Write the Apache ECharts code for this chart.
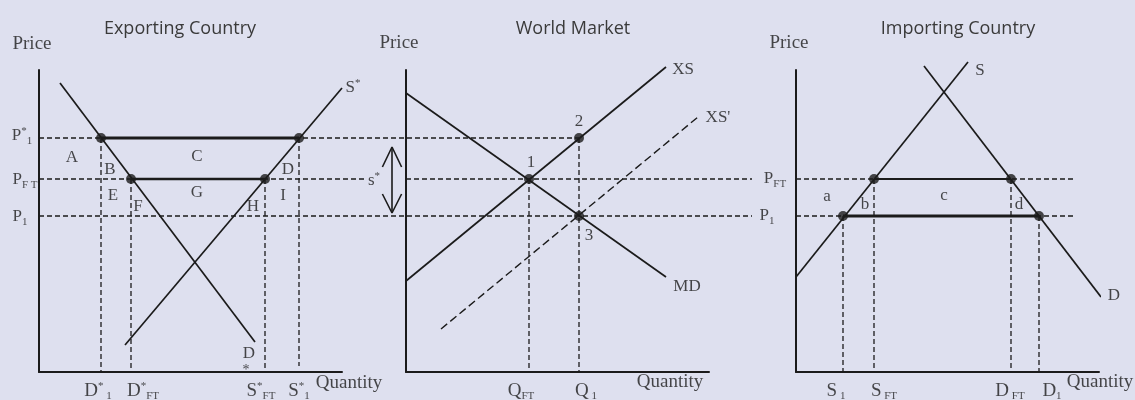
<!DOCTYPE html>
<html>
<head>
<meta charset="utf-8">
<title>Export subsidy</title>
<script src="https://cdn.jsdelivr.net/npm/echarts@6/dist/echarts.min.js"></script>
<style>
html, body { margin: 0; padding: 0; background: #dee0ef; }
#chart { width: 1135px; height: 400px; }
</style>
</head>
<body>
<div id="chart"></div>
<script>
// price levels shared by the three panels: P*1, PFT, P1
var prices = [234, 193, 156];

// exporting country
var expDemand = [[21, 289], [216, 30]];
var expSupply = [[86, 27], [303, 284]];
var expQty = [62, 92, 226, 260]; // D*1, D*FT, S*FT, S*1

// world market
var worldXS = [[0, 91], [260, 305]];
var worldXS2 = [[35, 43], [292, 255]]; // XS'
var worldMD = [[0, 279], [260, 95]];
var worldQty = [123, 173]; // QFT, Q1
var arrowY = [159, 225]; // the s* arrow

// importing country
var impSupply = [[0, 95], [172, 310]];
var impDemand = [[128, 306], [305, 75]];
var impQty = [47, 78, 215, 243]; // S1, SFT, DFT, D1

var ink = '#1b1b1b';
var serif = 'Liberation Serif';
var gridLeft = [39, 406, 796];
var W = 303, H = 302;

var chart = echarts.init(document.getElementById('chart'));

function seg(gi, pts, width, dash) {
    return {
        type: 'line',
        xAxisIndex: gi,
        yAxisIndex: gi,
        data: pts,
        symbol: 'none',
        clip: false,
        silent: true,
        lineStyle: { color: ink, width: width, type: dash || 'solid' }
    };
}
function dashed(gi, pts) {
    return seg(gi, pts, 1.3, [5, 3]);
}
function dots(gi, pts) {
    return {
        type: 'scatter',
        xAxisIndex: gi,
        yAxisIndex: gi,
        data: pts,
        symbolSize: 10,
        clip: false,
        silent: true,
        itemStyle: { color: ink }
    };
}
function labels(gi, items) {
    return {
        type: 'scatter',
        xAxisIndex: gi,
        yAxisIndex: gi,
        data: items,
        symbolSize: 1,
        clip: false,
        silent: true,
        itemStyle: { color: 'rgba(0,0,0,0)' },
        label: {
            show: true,
            position: 'inside',
            align: 'center',
            verticalAlign: 'middle',
            formatter: function (p) { return p.data.text; },
            rich: {
                m: { fontFamily: serif, fontSize: 17, color: ink },
                b: { fontFamily: serif, fontSize: 19, color: ink },
                sup: { fontFamily: serif, fontSize: 11, color: ink, padding: [0, 0, 10, 0] },
                sub: { fontFamily: serif, fontSize: 11, color: ink, padding: [10, 0, 0, 0] },
                st: { fontFamily: serif, fontSize: 14, color: ink }
            }
        }
    };
}
function lab(x, y, text) {
    return { value: [x, y], text: text };
}

var grids = [], xAxes = [], yAxes = [];
gridLeft.forEach(function (l, i) {
    grids.push({ left: l, top: 70, width: W, height: H });
    xAxes.push({
        type: 'value', gridIndex: i, min: 0, max: W,
        axisLine: { lineStyle: { color: ink, width: 2 } },
        axisTick: { show: false }, axisLabel: { show: false }, splitLine: { show: false }
    });
    yAxes.push({
        type: 'value', gridIndex: i, min: 0, max: H,
        axisLine: { lineStyle: { color: ink, width: 2 } },
        axisTick: { show: false }, axisLabel: { show: false }, splitLine: { show: false }
    });
});
// overlay across the whole width for the guide lines that run from panel to panel
grids.push({ left: 0, top: 70, width: 1135, height: H });
xAxes.push({ type: 'value', gridIndex: 3, min: 0, max: 1135, show: false });
yAxes.push({ type: 'value', gridIndex: 3, min: 0, max: H, show: false });

var pS = prices[0], pFT = prices[1], p1 = prices[2];
var q = expQty, wq = worldQty, iq = impQty;
var ax = 392; // arrow x on the overlay

var series = [
    // guide lines running across panels
    dashed(3, [[gridLeft[0], pS], [gridLeft[1] + wq[1], pS]]),
    dashed(3, [[gridLeft[0], pFT], [365, pFT]]),
    dashed(3, [[gridLeft[1], pFT], [752, pFT]]),
    dashed(3, [[gridLeft[0], p1], [752, p1]]),
    seg(3, [[ax, arrowY[0]], [ax, arrowY[1]]], 1.6),
    seg(3, [[ax - 9.6, arrowY[1] - 20], [ax, arrowY[1]], [ax + 9.6, arrowY[1] - 20]], 1.6),
    seg(3, [[ax - 9.6, arrowY[0] + 19], [ax, arrowY[0]], [ax + 9.6, arrowY[0] + 19]], 1.6),

    // exporting country
    dashed(0, [[q[0], pS], [q[0], 0]]),
    dashed(0, [[q[1], pFT], [q[1], 0]]),
    dashed(0, [[q[2], pFT], [q[2], 0]]),
    dashed(0, [[q[3], pS], [q[3], 6]]),
    seg(0, expDemand, 1.7),
    seg(0, expSupply, 1.7),
    seg(0, [[q[0], pS], [q[3], pS]], 3),
    seg(0, [[q[1], pFT], [q[2], pFT]], 2.5),
    dots(0, [[q[0], pS], [q[3], pS], [q[1], pFT], [q[2], pFT]]),

    // world market
    dashed(1, [[wq[0], pFT], [wq[0], 0]]),
    dashed(1, [[wq[1], pS], [wq[1], 0]]),
    seg(1, worldXS2, 1.4, [8, 4]),
    seg(1, worldXS, 1.7),
    seg(1, worldMD, 1.7),
    dots(1, [[wq[0], pFT], [wq[1], pS], [wq[1], p1]]),

    // importing country
    dashed(2, [[0, pFT], [279, pFT]]),
    dashed(2, [[0, p1], [279, p1]]),
    dashed(2, [[iq[0], p1], [iq[0], 0]]),
    dashed(2, [[iq[1], pFT], [iq[1], 0]]),
    dashed(2, [[iq[2], pFT], [iq[2], 0]]),
    dashed(2, [[iq[3], p1], [iq[3], 0]]),
    seg(2, impSupply, 1.7),
    seg(2, impDemand, 1.7),
    seg(2, [[iq[1], pFT], [iq[2], pFT]], 2),
    seg(2, [[iq[0], p1], [iq[3], p1]], 3),
    dots(2, [[iq[0], p1], [iq[1], pFT], [iq[2], pFT], [iq[3], p1]]),

    labels(0, [
        lab(-7, 328, '{b|Price}'),
        lab(-17, 236, '{m|P}{sup|*}{sub|1}'),
        lab(-14, 192, '{m|P}{sub|F T}'),
        lab(-19, 155, '{m|P}{sub|1}'),
        lab(33, 214, '{m|A}'), lab(71, 202, '{m|B}'), lab(158, 215, '{m|C}'),
        lab(249, 202, '{m|D}'), lab(74, 176, '{m|E}'), lab(99, 165, '{m|F}'),
        lab(158, 179, '{m|G}'), lab(214, 165, '{m|H}'), lab(244, 176, '{m|I}'),
        lab(314, 284, '{m|S}{sup|*}'),
        lab(210, 18, '{m|D}'), lab(207, 2, '{st|*}'),
        lab(59, -19, '{b|D}{sup|*}{sub| 1}'),
        lab(104, -19, '{b|D}{sup|*}{sub|FT}'),
        lab(222, -19, '{b|S}{sup|*}{sub|FT}'),
        lab(260, -19, '{b|S}{sup|*}{sub|1}'),
        lab(310, -11, '{b|Quantity}')
    ]),
    labels(1, [
        lab(-7, 329, '{b|Price}'),
        lab(-32, 191, '{m|s}{sup|*}'),
        lab(125, 209, '{m|1}'), lab(173, 250, '{m|2}'), lab(183, 136, '{m|3}'),
        lab(277, 302, '{m|XS}'), lab(312, 254, "{m|XS'}"), lab(281, 85, '{m|MD}'),
        lab(115, -19, '{b|Q}{sub|FT}'),
        lab(180, -19, '{b|Q}{sub| 1}'),
        lab(264, -10, '{b|Quantity}')
    ]),
    labels(2, [
        lab(-7, 329, '{b|Price}'),
        lab(-21, 193, '{m|P}{sub|FT}'),
        lab(-29, 156, '{m|P}{sub|1}'),
        lab(184, 301, '{m|S}'), lab(318, 76, '{m|D}'),
        lab(31, 175, '{m|a}'), lab(69, 167, '{m|b}'), lab(148, 176, '{m|c}'), lab(223, 167, '{m|d}'),
        lab(40, -19, '{b|S}{sub| 1}'),
        lab(88, -19, '{b|S}{sub| FT}'),
        lab(214, -19, '{b|D}{sub| FT}'),
        lab(256, -19, '{b|D}{sub|1}'),
        lab(304, -10, '{b|Quantity}')
    ])
];

var titleStyle = { fontFamily: 'Open Sans', fontSize: 18, fontWeight: 'normal', color: '#3a3a3a' };
var option = {
    backgroundColor: '#dee0ef',
    animation: false,
    title: [
        { text: 'Exporting Country', left: 175, top: 15, textAlign: 'center', textStyle: titleStyle },
        { text: 'World Market', left: 568, top: 15, textAlign: 'center', textStyle: titleStyle },
        { text: 'Importing Country', left: 953, top: 15, textAlign: 'center', textStyle: titleStyle }
    ],
    grid: grids,
    xAxis: xAxes,
    yAxis: yAxes,
    series: series
};
chart.setOption(option);
</script>
</body>
</html>
